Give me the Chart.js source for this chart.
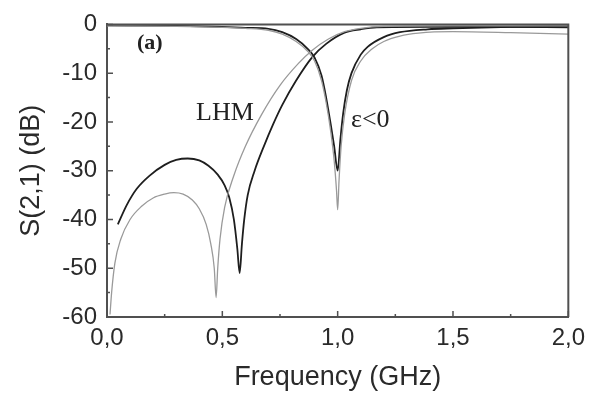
<!DOCTYPE html>
<html>
<head>
<meta charset="utf-8">
<title>S(2,1) transmission</title>
<script src="https://cdn.jsdelivr.net/npm/chart.js@4.4.1/dist/chart.umd.min.js"></script>
<style>
  html, body { margin: 0; padding: 0; background: #fff; }
  #wrap { width: 592px; height: 394px; }
</style>
</head>
<body>
<div id="wrap"><canvas id="s21Chart" width="592" height="394"></canvas></div>
<script>
// Left-handed medium (LHM) transmission, measured (dark) and simulated (light)
const lhmFreqDark = [0.047, 0.086, 0.129, 0.185, 0.25, 0.30, 0.35, 0.40, 0.44, 0.48, 0.51, 0.53, 0.55, 0.565, 0.575,
  0.585, 0.595, 0.61, 0.64, 0.68, 0.72, 0.76, 0.82, 0.89, 0.95, 1.03, 1.10, 1.17, 1.40, 1.70, 2.00];
const lhmDark = [-41, -37, -33.7, -31, -28.8, -27.8, -27.5, -27.9, -29, -30.8, -33, -35.5, -40, -46, -51,
  -45, -40, -35, -30, -25, -20.5, -16.5, -11.5, -6.7, -4, -1.7, -1, -0.6, -0.5, -0.5, -0.6];

const lhmFreqLight = [0.013, 0.02, 0.034, 0.06, 0.10, 0.15, 0.20, 0.25, 0.29, 0.33, 0.37, 0.40, 0.43, 0.45, 0.465, 0.473,
  0.48, 0.49, 0.51, 0.55, 0.60, 0.67, 0.75, 0.83, 0.89, 0.96, 1.03, 1.10, 1.20, 1.50, 2.00];
const lhmLight = [-59.5, -55, -49, -44, -40, -37.3, -35.6, -34.8, -34.5, -34.8, -36, -37.8, -41, -45, -50, -56,
  -50, -44, -37.5, -31, -25, -18.5, -12.5, -8, -5.3, -3, -1.5, -0.8, -0.4, -0.3, -0.3];

// Negative permittivity (ε<0) transmission
const epsFreqDark = [0.00, 0.30, 0.50, 0.60, 0.70, 0.76, 0.82, 0.87, 0.90, 0.93, 0.95, 0.97, 0.985, 1.00,
  1.012, 1.024, 1.04, 1.06, 1.10, 1.13, 1.20, 1.27, 1.39, 1.50, 1.75, 2.00];
const epsDark = [-0.2, -0.3, -0.5, -0.7, -0.9, -1.6, -3, -5, -6.8, -10.5, -15, -20.5, -25, -30,
  -23.5, -18.2, -13.5, -10, -6.2, -4.6, -2.6, -1.6, -1, -0.8, -0.5, -0.4];

const epsFreqLight = [0.00, 0.30, 0.50, 0.60, 0.70, 0.76, 0.82, 0.87, 0.90, 0.93, 0.95, 0.97, 0.985, 0.995, 1.00,
  1.006, 1.015, 1.03, 1.06, 1.10, 1.15, 1.20, 1.27, 1.35, 1.50, 1.75, 2.00];
const epsLight = [-0.3, -0.4, -0.6, -0.8, -1.2, -2, -3.5, -5.5, -7.5, -11.5, -16, -22, -28, -34, -38,
  -32, -25, -18.5, -11.5, -7.5, -5, -3.5, -2.4, -1.8, -1.5, -1.7, -2];

// Axis ticks
const freqTicks = [0, 0.5, 1.0, 1.5, 2.0];
const freqMinor = [0.25, 0.75, 1.25, 1.75];
const dbTicks = [0, -10, -20, -30, -40, -50, -60];
const dbMinor = [-5, -15, -25, -35, -45, -55];

function toPoints(xs, ys) {
  return xs.map((x, i) => ({ x: x, y: ys[i] }));
}

const DARK = '#1e1e1e';
const LIGHT = '#9a9a9a';
const FRAME = '#505050';

// Inward ticks, top/right frame and the in-plot labels
const framePlugin = {
  id: 'frameAndNotes',
  afterDraw(chart) {
    const { ctx, chartArea: a, scales } = chart;
    const xs = scales.x, ys = scales.y;
    ctx.save();
    ctx.strokeStyle = FRAME;
    ctx.lineWidth = 2;
    ctx.beginPath();
    ctx.moveTo(a.left, a.top);
    ctx.lineTo(a.right, a.top);
    ctx.lineTo(a.right, a.bottom);
    ctx.stroke();

    ctx.lineWidth = 1.5;
    ctx.beginPath();
    freqTicks.forEach(v => { const px = xs.getPixelForValue(v); ctx.moveTo(px, a.bottom); ctx.lineTo(px, a.bottom - 6); });
    freqMinor.forEach(v => { const px = xs.getPixelForValue(v); ctx.moveTo(px, a.bottom); ctx.lineTo(px, a.bottom - 3); });
    dbTicks.forEach(v => { const py = ys.getPixelForValue(v); ctx.moveTo(a.left, py); ctx.lineTo(a.left + 6, py); });
    dbMinor.forEach(v => { const py = ys.getPixelForValue(v); ctx.moveTo(a.left, py); ctx.lineTo(a.left + 3, py); });
    ctx.stroke();

    ctx.fillStyle = '#222';
    ctx.textBaseline = 'middle';
    ctx.textAlign = 'left';
    ctx.font = 'bold 22px "Liberation Serif", "Times New Roman", serif';
    ctx.fillText('(a)', 137, 43);
    ctx.font = '26px "Liberation Serif", "Times New Roman", serif';
    ctx.fillText('LHM', 196, 113);
    ctx.fillText('ε<0', 351, 120);
    ctx.restore();
  }
};

new Chart(document.getElementById('s21Chart').getContext('2d'), {
  type: 'line',
  data: {
    datasets: [
      { data: toPoints(lhmFreqLight, lhmLight), borderColor: LIGHT, borderWidth: 1.3 },
      { data: toPoints(epsFreqLight, epsLight), borderColor: LIGHT, borderWidth: 1.3 },
      { data: toPoints(lhmFreqDark, lhmDark), borderColor: DARK, borderWidth: 1.8 },
      { data: toPoints(epsFreqDark, epsDark), borderColor: DARK, borderWidth: 1.8 }
    ]
  },
  options: {
    responsive: false,
    animation: false,
    parsing: false,
    elements: {
      point: { radius: 0 },
      line: { cubicInterpolationMode: 'monotone', fill: false }
    },
    layout: { padding: { top: 20, right: 20, left: 0, bottom: 0 } },
    plugins: { legend: { display: false }, tooltip: { enabled: false } },
    scales: {
      x: {
        type: 'linear',
        min: 0,
        max: 2,
        afterFit: s => { s.height = 77; },
        border: { display: true, color: FRAME, width: 2 },
        grid: { display: false, drawTicks: false },
        ticks: {
          stepSize: 0.5,
          padding: 7,
          color: '#2a2a2a',
          font: { family: '"Liberation Sans", Arial, sans-serif', size: 24 },
          callback: v => v.toFixed(1).replace('.', ',')
        },
        title: {
          display: true,
          text: 'Frequency (GHz)',
          color: '#2a2a2a',
          padding: { top: 0, bottom: 0 },
          font: { family: '"Liberation Sans", Arial, sans-serif', size: 27 }
        }
      },
      y: {
        min: -60,
        max: 0,
        afterFit: s => { s.width = 107; },
        border: { display: true, color: FRAME, width: 2 },
        grid: { display: false, drawTicks: false },
        ticks: {
          stepSize: 10,
          padding: 10,
          color: '#2a2a2a',
          font: { family: '"Liberation Sans", Arial, sans-serif', size: 24 }
        },
        title: {
          display: true,
          text: 'S(2,1) (dB)',
          color: '#2a2a2a',
          padding: { top: 15, bottom: 0 },
          font: { family: '"Liberation Sans", Arial, sans-serif', size: 27 }
        }
      }
    }
  },
  plugins: [framePlugin]
});
</script>
</body>
</html>
